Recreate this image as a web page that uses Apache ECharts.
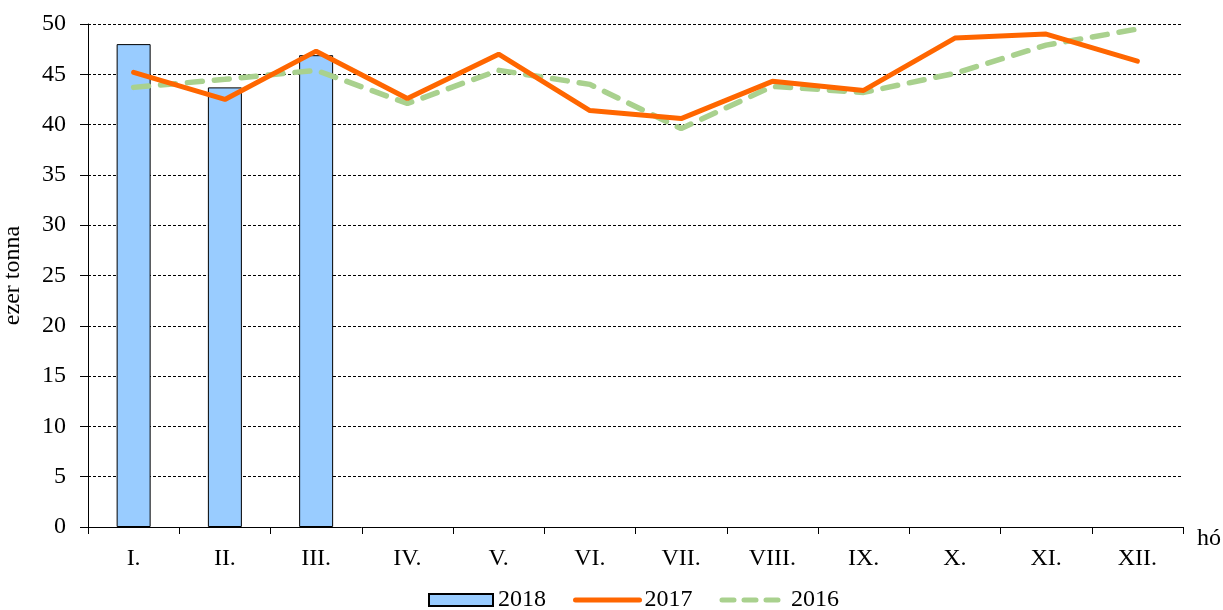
<!DOCTYPE html>
<html>
<head>
<meta charset="utf-8">
<script src="https://cdn.jsdelivr.net/npm/echarts@6/dist/echarts.min.js"></script>
<style>
  html, body { margin: 0; padding: 0; background: #fff; }
  #chart { width: 1223px; height: 610px; }
</style>
</head>
<body>
<div id="chart"></div>
<script>
const months = ['I.', 'II.', 'III.', 'IV.', 'V.', 'VI.', 'VII.', 'VIII.', 'IX.', 'X.', 'XI.', 'XII.'];
const data2018 = [48.0, 43.7, 46.9, null, null, null, null, null, null, null, null, null];
const data2017 = [45.2, 42.5, 47.3, 42.6, 47.0, 41.4, 40.6, 44.3, 43.4, 48.6, 49.0, 46.3];
const data2016 = [43.7, 44.5, 45.4, 42.1, 45.4, 44.0, 39.6, 43.8, 43.2, 45.1, 47.9, 49.5];

const font = '"Liberation Serif", "Times New Roman", serif';
const fs = 24;
const chart = echarts.init(document.getElementById('chart'));

chart.setOption({
  animation: false,
  textStyle: { fontFamily: font, color: '#000' },
  grid: { left: 88, right: 40, top: 24, bottom: 83, containLabel: false, outerBoundsMode: 'none' },
  legend: {
    top: 583,
    left: 423,
    itemWidth: 64,
    itemHeight: 12,
    itemGap: 27,
    textStyle: { fontFamily: font, fontSize: fs, color: '#000' },
    data: [
      { name: '2018', icon: 'rect' },
      { name: '2017', itemStyle: { opacity: 0 }, lineStyle: { width: 5, color: '#ff6600', cap: 'round' } },
      { name: '2016', itemStyle: { opacity: 0 }, lineStyle: { width: 5, color: '#a9d18e', type: [12, 10], cap: 'round' } }
    ]
  },
  xAxis: {
    type: 'category',
    data: months,
    name: 'hó',
    nameLocation: 'end',
    nameGap: 14,
    nameTextStyle: { fontFamily: font, fontSize: fs, color: '#000', verticalAlign: 'top' },
    axisLine: { lineStyle: { color: '#000', width: 1 } },
    axisTick: { show: true, inside: false, length: 7, lineStyle: { color: '#000' } },
    axisLabel: { fontFamily: font, fontSize: fs, color: '#000', margin: 20 },
    splitLine: { show: false }
  },
  yAxis: {
    type: 'value',
    min: 0,
    max: 50,
    interval: 5,
    name: 'ezer tonna',
    nameLocation: 'middle',
    nameGap: 63,
    nameTextStyle: { fontFamily: font, fontSize: fs, color: '#000' },
    axisLine: { show: true, lineStyle: { color: '#000', width: 1 } },
    axisTick: { show: true, length: 8, lineStyle: { color: '#000' } },
    axisLabel: { fontFamily: font, fontSize: fs, color: '#000', margin: 22 },
    splitLine: { show: true, lineStyle: { color: '#000', width: 1, type: [3, 2] } }
  },
  series: [
    {
      name: '2018',
      type: 'bar',
      data: data2018,
      barWidth: 34,
      itemStyle: { color: '#99ccff', borderColor: '#000', borderWidth: 1 },
      z: 1
    },
    {
      name: '2016',
      type: 'line',
      data: data2016,
      symbol: 'none',
      lineStyle: { color: '#a9d18e', width: 5.5, type: [15, 12], cap: 'round' },
      itemStyle: { color: '#a9d18e' },
      z: 2
    },
    {
      name: '2017',
      type: 'line',
      data: data2017,
      symbol: 'none',
      lineStyle: { color: '#ff6600', width: 5, cap: 'round' },
      itemStyle: { color: '#ff6600' },
      z: 3
    }
  ]
});
</script>
</body>
</html>
